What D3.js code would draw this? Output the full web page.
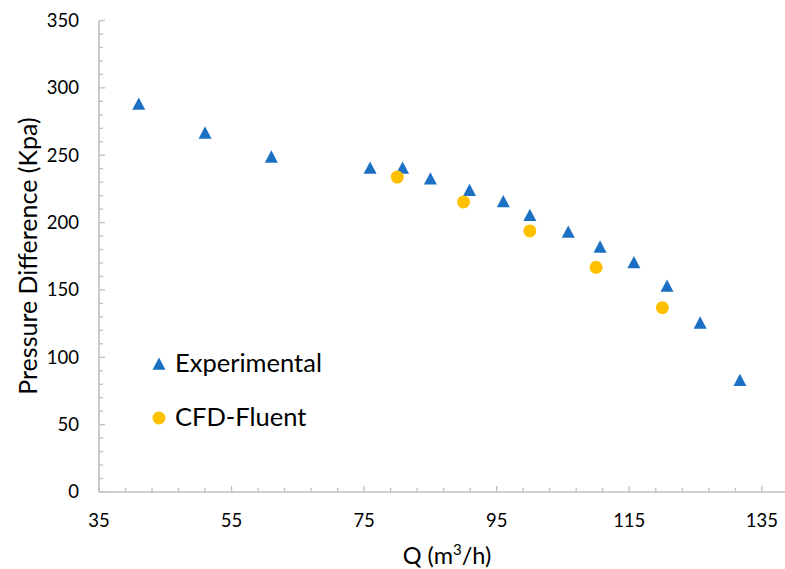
<!DOCTYPE html>
<html>
<head>
<meta charset="utf-8">
<script src="https://cdn.jsdelivr.net/npm/d3@7"></script>
<style>
  body { margin: 0; background: #fff; }
  svg { display: block; font-family: Lato, "Liberation Sans", sans-serif; }
</style>
</head>
<body>
<svg id="chart" width="785" height="569"></svg>
<script>
// flow rate Q (m3/h) and pressure difference (kPa)
const EXP_Q = [41, 51, 61, 75.9, 80.8, 85, 90.9, 96, 100, 105.8, 110.6, 115.7, 120.7, 125.7, 131.7];
const EXP_DP = [288, 266.6, 248.8, 240.5, 240.5, 232.6, 224, 215.7, 205.5, 193, 182, 170.4, 153, 125.6, 83];

const CFD_Q = [80, 90, 100, 110, 120];
const CFD_DP = [233.8, 215.3, 193.8, 166.8, 136.8];

const X_MAJOR = [35, 55, 75, 95, 115, 135];
const Y_MAJOR = [0, 50, 100, 150, 200, 250, 300, 350];

const SERIES = ["Experimental", "CFD-Fluent"];
const COLORS = ["#1b70c4", "#ffc000"];

const MARGIN = { top: 20.5, right: 0, bottom: 77, left: 99 };
const W = 785, H = 569;
const AXIS_COLOR = "#bfbfbf";

const svg = d3.select("#chart");

const x = d3.scaleLinear().domain([35, 138.5]).range([MARGIN.left, W - MARGIN.right]);
const y = d3.scaleLinear().domain([0, 350]).range([H - MARGIN.bottom, MARGIN.top]);

// triangle centred on its bounding box, like the spreadsheet marker
const triangle = {
  draw(ctx, size) {
    const r = Math.sqrt(size) / 2;
    ctx.moveTo(0, -r);
    ctx.lineTo(r, r * 0.9);
    ctx.lineTo(-r, r * 0.9);
    ctx.closePath();
  }
};

// minor ticks
const xMinor = d3.range(35, 139, 4);
const yMinor = d3.range(0, 351, 10);

const axes = svg.append("g");

axes.append("g")
  .selectAll("line")
  .data(xMinor)
  .join("line")
  .attr("x1", d => x(d)).attr("x2", d => x(d))
  .attr("y1", y(0)).attr("y2", d => y(0) - (X_MAJOR.includes(d) ? 6 : 4))
  .attr("stroke", AXIS_COLOR)
  .attr("stroke-width", 1.3);

axes.append("g")
  .selectAll("line")
  .data(yMinor)
  .join("line")
  .attr("y1", d => y(d)).attr("y2", d => y(d))
  .attr("x1", x(35)).attr("x2", d => x(35) + (Y_MAJOR.includes(d) ? 6 : 4))
  .attr("stroke", AXIS_COLOR)
  .attr("stroke-width", 1.3);

axes.append("line")
  .attr("x1", x(35)).attr("x2", W)
  .attr("y1", y(0)).attr("y2", y(0))
  .attr("stroke", AXIS_COLOR).attr("stroke-width", 1.6);

axes.append("line")
  .attr("x1", x(35)).attr("x2", x(35))
  .attr("y1", y(0)).attr("y2", y(350))
  .attr("stroke", AXIS_COLOR).attr("stroke-width", 1.6);

// tick labels
axes.append("g")
  .selectAll("text")
  .data(X_MAJOR)
  .join("text")
  .attr("x", d => x(d))
  .attr("y", 527)
  .attr("text-anchor", "middle")
  .style("font-size", "18.5px")
  .text(d => d);

axes.append("g")
  .selectAll("text")
  .data(Y_MAJOR)
  .join("text")
  .attr("x", 79)
  .attr("y", d => y(d))
  .attr("dy", "0.35em")
  .attr("text-anchor", "end")
  .style("font-size", "18.5px")
  .text(d => d);

// axis titles
const xt = svg.append("text")
  .attr("x", 447)
  .attr("y", 564)
  .attr("text-anchor", "middle")
  .style("font-size", "23.5px");
xt.append("tspan").text("Q (m");
xt.append("tspan").attr("dy", -9).style("font-size", "15px").text("3");
xt.append("tspan").attr("dy", 9).text("/h)");

svg.append("text")
  .attr("transform", "translate(37,256) rotate(-90)")
  .attr("text-anchor", "middle")
  .style("font-size", "25px")
  .text("Pressure Difference (Kpa)");

// points
const expData = EXP_Q.map((q, i) => ({ q, dp: EXP_DP[i] }));
const cfdData = CFD_Q.map((q, i) => ({ q, dp: CFD_DP[i] }));

svg.append("g")
  .selectAll("path")
  .data(expData)
  .join("path")
  .attr("d", d3.symbol(triangle, 169))
  .attr("transform", d => `translate(${x(d.q)},${y(d.dp)})`)
  .attr("fill", COLORS[0]);

svg.append("g")
  .selectAll("circle")
  .data(cfdData)
  .join("circle")
  .attr("cx", d => x(d.q))
  .attr("cy", d => y(d.dp))
  .attr("r", 6.5)
  .attr("fill", COLORS[1]);

// legend
const legend = svg.append("g");
const LEG_Y = [364, 418];
legend.append("path")
  .attr("d", d3.symbol(triangle, 169))
  .attr("transform", `translate(159,${LEG_Y[0]})`)
  .attr("fill", COLORS[0]);
legend.append("circle")
  .attr("cx", 159).attr("cy", LEG_Y[1]).attr("r", 6.5)
  .attr("fill", COLORS[1]);
legend.selectAll("text")
  .data(SERIES)
  .join("text")
  .attr("x", 175)
  .attr("y", (d, i) => LEG_Y[i] + 8)
  .style("font-size", "25.5px")
  .text(d => d);
</script>
</body>
</html>
